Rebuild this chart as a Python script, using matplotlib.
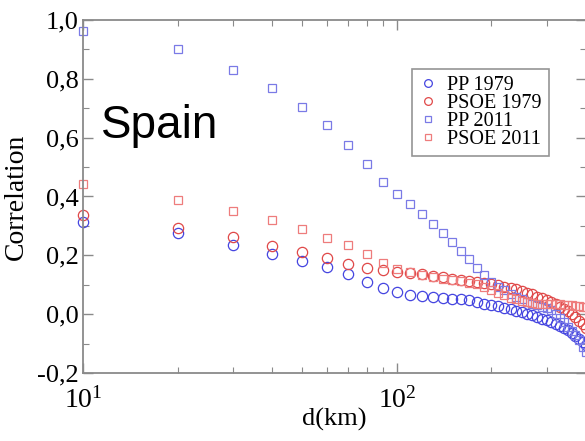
import matplotlib
matplotlib.use("Agg")
import matplotlib.pyplot as plt
from matplotlib.ticker import MultipleLocator, FuncFormatter, FixedLocator, NullFormatter

plt.rcParams['font.family'] = ['Liberation Serif', 'DejaVu Serif']
plt.rcParams['mathtext.fontset'] = 'custom'
plt.rcParams['mathtext.rm'] = 'Liberation Serif'
plt.rcParams['mathtext.it'] = 'Liberation Serif:italic'

distance_km = [10, 20, 30, 40, 50, 60, 70, 80, 90, 100,
               110, 120, 130, 140, 150, 160, 170, 180, 190, 200,
               210, 220, 230, 240, 250, 260, 270, 280, 290, 300,
               310, 320, 330, 340, 350, 360, 370, 380, 390, 400]

pp_1979 = [0.313, 0.277, 0.234, 0.203, 0.182, 0.160, 0.135, 0.109, 0.090, 0.076,
           0.066, 0.061, 0.058, 0.055, 0.052, 0.050, 0.047, 0.042, 0.036, 0.032,
           0.027, 0.022, 0.018, 0.011, 0.006, 0.001, -0.004, -0.010, -0.015, -0.020,
           -0.026, -0.033, -0.041, -0.048, -0.055, -0.064, -0.073, -0.083, -0.095, -0.105]

psoe_1979 = [0.336, 0.294, 0.262, 0.232, 0.211, 0.190, 0.171, 0.158, 0.150, 0.145,
             0.141, 0.136, 0.130, 0.125, 0.120, 0.116, 0.112, 0.108, 0.105, 0.102,
             0.098, 0.094, 0.089, 0.084, 0.078, 0.073, 0.067, 0.060, 0.054, 0.048,
             0.041, 0.033, 0.025, 0.018, 0.010, 0.001, -0.010, -0.022, -0.035, -0.048]

pp_2011 = [0.962, 0.902, 0.831, 0.768, 0.704, 0.643, 0.576, 0.510, 0.450, 0.408,
           0.376, 0.342, 0.308, 0.277, 0.245, 0.215, 0.187, 0.158, 0.132, 0.110,
           0.094, 0.082, 0.070, 0.060, 0.051, 0.043, 0.036, 0.030, 0.026, 0.022,
           0.014, 0.002, -0.012, -0.028, -0.045, -0.058, -0.070, -0.088, -0.110, -0.130]

psoe_2011 = [0.444, 0.388, 0.351, 0.320, 0.291, 0.258, 0.235, 0.203, 0.175, 0.155,
             0.144, 0.133, 0.127, 0.120, 0.117, 0.112, 0.106, 0.102, 0.092, 0.083,
             0.073, 0.064, 0.056, 0.050, 0.045, 0.041, 0.038, 0.036, 0.035, 0.034,
             0.034, 0.033, 0.033, 0.032, 0.031, 0.030, 0.029, 0.027, 0.025, 0.023]

y_ticks = [-0.2, 0.0, 0.2, 0.4, 0.6, 0.8, 1.0]
x_major_ticks = [10, 100]
x_major_labels = [r'$\mathregular{10^{\!\!\ 1}}$', r'$\mathregular{10^{\!\!\ 2}}$']

W, H = 585, 441
fig = plt.figure(figsize=(W / 100, H / 100), dpi=100)
ax = fig.add_axes([83 / W, (H - 373) / H, 503 / W, 353 / H])

c_blue_c = '#4545e0'
c_red_c = '#e04848'
c_blue_s = '#7a7ae6'
c_red_s = '#ee7c7c'

ax.plot(distance_km, pp_1979, linestyle='none', marker='o', ms=7.4, mfc='none',
        mec=c_blue_c, mew=0.9, clip_on=False, label='PP 1979')
ax.plot(distance_km, psoe_1979, linestyle='none', marker='o', ms=7.4, mfc='none',
        mec=c_red_c, mew=0.9, clip_on=False, label='PSOE 1979')
ax.plot(distance_km, pp_2011, linestyle='none', marker='s', ms=5.8, mfc='none',
        mec=c_blue_s, mew=0.9, clip_on=False, label='PP 2011')
ax.plot(distance_km, psoe_2011, linestyle='none', marker='s', ms=5.8, mfc='none',
        mec=c_red_s, mew=0.9, clip_on=False, label='PSOE 2011')

ax.set_xscale('log')
ax.set_xlim(10, 400)
ax.set_ylim(-0.2, 1.0)

ax.yaxis.set_major_locator(FixedLocator(y_ticks))
ax.yaxis.set_minor_locator(MultipleLocator(0.1))
ax.yaxis.set_major_formatter(FuncFormatter(lambda v, p: ('%.1f' % v).replace('.', ',')))
ax.set_xticks(x_major_ticks)
ax.set_xticklabels(x_major_labels)

for s in ax.spines.values():
    s.set_color('#8a8a8a')
    s.set_linewidth(1.3)

ax.tick_params(which='both', direction='in', top=True, right=True, colors='#8a8a8a',
               labelcolor='black', labelsize=19)
ax.tick_params(which='major', length=7, width=1.0)
ax.tick_params(which='minor', length=4, width=0.8)
ax.tick_params(axis='y', pad=3)
ax.tick_params(axis='x', pad=10, labelsize=20)
ax.xaxis.set_minor_formatter(NullFormatter())

ax.set_xlabel('d(km)', fontsize=19, labelpad=-4)
ax.set_ylabel('Correlation', fontsize=20, labelpad=6)

leg = ax.legend(loc='upper left', bbox_to_anchor=(412 / W, 1 - 69 / H),
                bbox_transform=fig.transFigure, borderaxespad=0, fontsize=14.5,
                frameon=True, fancybox=False, handlelength=0.9, handletextpad=0.5,
                labelspacing=-0.05, borderpad=0.35, markerscale=0.75)
leg.get_frame().set_edgecolor('#7a7a7a')
leg.get_frame().set_linewidth(1.2)

fig.text(101 / W, 1 - 138 / H, 'Spain', fontsize=33, family='Liberation Sans',
         va='baseline', ha='left')

fig.savefig('out.png', dpi=100)
